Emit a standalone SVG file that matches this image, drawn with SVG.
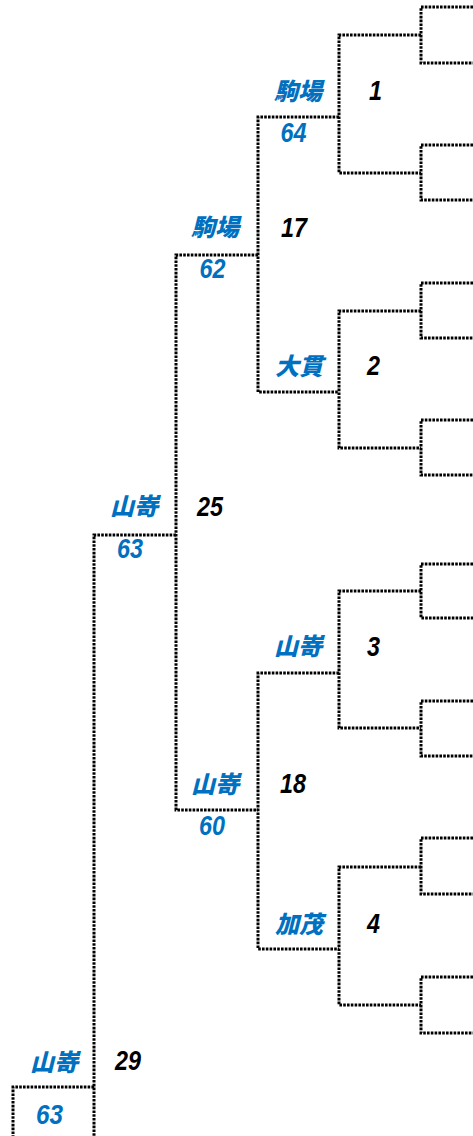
<svg xmlns="http://www.w3.org/2000/svg" width="473" height="1136" viewBox="0 0 473 1136">
<style>
.ln{fill:none;stroke:#000;stroke-width:3;stroke-dasharray:2.6 1.2}
.nm{font-family:"Noto Sans CJK JP","Noto Sans CJK SC",sans-serif;font-weight:900;font-style:italic;font-size:24px;fill:#0070C0;text-anchor:end}
.sc{font-family:"Liberation Sans",Arial,sans-serif;font-weight:bold;font-style:italic;font-size:27px;fill:#0070C0;text-anchor:middle}
.nb{font-family:"Liberation Sans",Arial,sans-serif;font-weight:bold;font-style:italic;font-size:27px;fill:#000}
</style>
<rect width="473" height="1136" fill="#fff"/>
<g id="connectors">
<path class="ln" d="M473,7 H421 V63 H473"/>
<path class="ln" d="M473,145 H421 V200 H473"/>
<path class="ln" d="M473,283 H421 V338 H473"/>
<path class="ln" d="M473,420 H421 V475 H473"/>
<path class="ln" d="M473,564 H421 V618 H473"/>
<path class="ln" d="M473,701 H421 V756 H473"/>
<path class="ln" d="M473,838 H421 V894 H473"/>
<path class="ln" d="M473,977 H421 V1033 H473"/>
<path class="ln" d="M421,35 H339 V173 H421"/>
<path class="ln" d="M421,311 H339 V448 H421"/>
<path class="ln" d="M421,591 H339 V728 H421"/>
<path class="ln" d="M421,867 H339 V1005 H421"/>
<path class="ln" d="M339,117 H258 V392 H339"/>
<path class="ln" d="M339,673 H258 V949 H339"/>
<path class="ln" d="M258,255 H176 V810 H258"/>
<path class="ln" d="M176,535 H94 V1136"/>
<path class="ln" d="M94,1087 H13 V1136"/>
</g>
<g id="m1"><text class="nm" x="322" y="100">駒場</text><text class="nb" x="369" y="100" textLength="13" lengthAdjust="spacingAndGlyphs">1</text></g>
<g id="m2"><text class="nm" x="323" y="375">大貫</text><text class="nb" x="367" y="375" textLength="13" lengthAdjust="spacingAndGlyphs">2</text></g>
<g id="m3"><text class="nm" x="322" y="655">山嵜</text><text class="nb" x="367" y="656" textLength="13" lengthAdjust="spacingAndGlyphs">3</text></g>
<g id="m4"><text class="nm" x="323" y="933">加茂</text><text class="nb" x="367" y="933" textLength="13" lengthAdjust="spacingAndGlyphs">4</text></g>
<g id="m17"><text class="sc" x="293.5" y="142" textLength="26" lengthAdjust="spacingAndGlyphs">64</text><text class="nm" x="239" y="236">駒場</text><text class="nb" x="281" y="237" textLength="26" lengthAdjust="spacingAndGlyphs">17</text></g>
<g id="m18"><text class="nm" x="239" y="793">山嵜</text><text class="nb" x="280" y="793" textLength="26" lengthAdjust="spacingAndGlyphs">18</text></g>
<g id="m25"><text class="sc" x="212.5" y="278" textLength="26" lengthAdjust="spacingAndGlyphs">62</text><text class="sc" x="212" y="835" textLength="26" lengthAdjust="spacingAndGlyphs">60</text><text class="nm" x="158" y="515">山嵜</text><text class="nb" x="197" y="516" textLength="26" lengthAdjust="spacingAndGlyphs">25</text></g>
<g id="m29"><text class="sc" x="130" y="558" textLength="26" lengthAdjust="spacingAndGlyphs">63</text><text class="nm" x="78" y="1071">山嵜</text><text class="nb" x="115" y="1070" textLength="26" lengthAdjust="spacingAndGlyphs">29</text><text class="sc" x="49.5" y="1124" textLength="27" lengthAdjust="spacingAndGlyphs">63</text></g>
</svg>
